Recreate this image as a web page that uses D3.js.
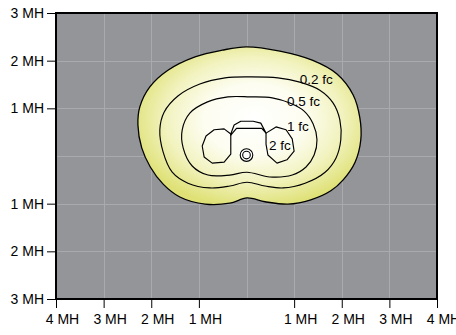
<!DOCTYPE html>
<html>
<head>
<meta charset="utf-8">
<script src="https://cdn.jsdelivr.net/npm/d3@7"></script>
<style>
  html, body { margin: 0; padding: 0; background: #ffffff; }
  svg { display: block; font-family: "Liberation Sans", Arial, Helvetica, sans-serif; }
</style>
</head>
<body>
<svg id="chart" width="456" height="335"></svg>
<script>
// Isofootcandle plot, distances in mounting heights (MH), luminaire at the origin.
const xTicks = [-4, -3, -2, -1, 1, 2, 3, 4];
const xTickLabels = ["4 MH", "3 MH", "2 MH", "1 MH", "1 MH", "2 MH", "3 MH", "4 MH"];
const yTicks = [3, 2, 1, -1, -2, -3];
const yTickLabels = ["3 MH", "2 MH", "1 MH", "1 MH", "2 MH", "3 MH"];
const gridX = [-3, -2, -1, 0, 1, 2, 3];
const gridY = [-2, -1, 0, 1, 2];

// Contour outlines, [x MH, y MH]
const contour02 = [
  [0.00, 2.29], [-0.51, 2.22], [-1.08, 2.08], [-1.65, 1.80], [-2.03, 1.45],
  [-2.24, 1.03], [-2.28, 0.65], [-2.20, 0.17], [-2.02, -0.23], [-1.75, -0.59],
  [-1.40, -0.86], [-0.87, -1.01], [-0.35, -0.99], [0.01, -0.88], [0.39, -0.96],
  [0.87, -1.01], [1.35, -0.92], [1.77, -0.73], [2.03, -0.50], [2.28, -0.13],
  [2.40, 0.34], [2.38, 0.80], [2.24, 1.28], [1.90, 1.72], [1.38, 2.01], [0.70, 2.20]
];
const contour05 = [
  [-1.82, 0.55], [-1.73, 0.92], [-1.44, 1.26], [-0.98, 1.51], [-0.45, 1.64],
  [0.07, 1.66], [0.66, 1.64], [1.12, 1.55], [1.54, 1.38], [1.82, 1.11],
  [1.96, 0.76], [1.98, 0.34], [1.88, -0.04], [1.65, -0.34], [1.23, -0.57],
  [0.77, -0.67], [0.39, -0.63], [0.01, -0.55], [-0.35, -0.63], [-0.77, -0.67],
  [-1.23, -0.57], [-1.56, -0.34], [-1.75, 0.08]
];
const contour1 = [
  [-1.35, 0.55], [-1.19, 0.90], [-0.83, 1.13], [-0.39, 1.24], [0.07, 1.24],
  [0.54, 1.22], [0.91, 1.11], [1.21, 0.94], [1.40, 0.67], [1.48, 0.34],
  [1.42, 0.02], [1.25, -0.23], [0.96, -0.40], [0.49, -0.44], [0.01, -0.34],
  [-0.35, -0.40], [-0.81, -0.40], [-1.14, -0.21], [-1.33, 0.17]
];
const contour2Left = [
  [-0.68, 0.55], [-0.47, 0.57], [-0.33, 0.46], [-0.33, 0.04], [-0.47, -0.13],
  [-0.72, -0.15], [-0.89, -0.02], [-0.93, 0.21], [-0.85, 0.42]
];
const contour2Right = [
  [0.41, 0.48], [0.62, 0.61], [0.83, 0.55], [0.96, 0.36], [1.00, 0.10],
  [0.85, -0.08], [0.64, -0.15], [0.45, 0.02], [0.41, 0.25]
];
const contour2Bridge = [
  [-0.33, 0.46], [-0.26, 0.65], [-0.12, 0.73], [0.14, 0.73], [0.30, 0.69], [0.41, 0.48],
  [0.32, 0.58], [-0.21, 0.58], [-0.33, 0.44]
];
const luminaire = [0, 0.02];

const contourLabels = ["0.2 fc", "0.5 fc", "1 fc", "2 fc"];
const labelX = [1.12, 0.85, 0.85, 0.47];
const labelY = [1.51, 1.04, 0.52, 0.12];

const svg = d3.select("#chart");
const plot = { left: 56, right: 437, top: 13, bottom: 299 };

const x = d3.scaleLinear().domain([-4, 4]).range([plot.left, plot.right]);
const y = d3.scaleLinear().domain([-3, 3]).range([plot.bottom, plot.top]);

// gradient for the lit area
const defs = svg.append("defs");
const grad = defs.append("radialGradient")
  .attr("id", "litGrad")
  .attr("cx", "52%").attr("cy", "46%").attr("r", "56%");
grad.append("stop").attr("offset", "0%").attr("stop-color", "#ffffff");
grad.append("stop").attr("offset", "40%").attr("stop-color", "#fdfdf1");
grad.append("stop").attr("offset", "70%").attr("stop-color", "#f2f3c0");
grad.append("stop").attr("offset", "100%").attr("stop-color", "#dfe177");

// plot background
svg.append("rect")
  .attr("x", plot.left).attr("y", plot.top)
  .attr("width", plot.right - plot.left).attr("height", plot.bottom - plot.top)
  .attr("fill", "#939598");

// grid
const grid = svg.append("g").attr("stroke", "#a9aaad").attr("stroke-width", 1);
grid.selectAll("line.gx").data(gridX).join("line")
  .attr("x1", d => Math.round(x(d)) + 0.5).attr("x2", d => Math.round(x(d)) + 0.5)
  .attr("y1", plot.top).attr("y2", plot.bottom);
grid.selectAll("line.gy").data(gridY).join("line")
  .attr("y1", d => Math.round(y(d)) + 0.5).attr("y2", d => Math.round(y(d)) + 0.5)
  .attr("x1", plot.left).attr("x2", plot.right);

const smooth = d3.line().x(d => x(d[0])).y(d => y(d[1])).curve(d3.curveCatmullRomClosed.alpha(0.5));
const poly = d3.line().x(d => x(d[0])).y(d => y(d[1])).curve(d3.curveLinearClosed);

// lit area
svg.append("path").datum(contour02)
  .attr("d", smooth)
  .attr("fill", "url(#litGrad)")
  .attr("stroke", "#000").attr("stroke-width", 1.3);

// inner contours
const lines = svg.append("g").attr("fill", "none").attr("stroke", "#000").attr("stroke-width", 1.15);
lines.append("path").datum(contour05).attr("d", smooth);
lines.append("path").datum(contour1).attr("d", smooth);
[contour2Left, contour2Right, contour2Bridge].forEach(c => {
  lines.append("path").datum(c).attr("d", poly).attr("stroke-linejoin", "round");
});

// luminaire symbol
const lum = svg.append("g").attr("transform", `translate(${x(luminaire[0])},${y(luminaire[1])})`);
lum.append("circle").attr("r", 6.3).attr("fill", "#ffffff").attr("stroke", "#000").attr("stroke-width", 1.1);
lum.append("circle").attr("r", 3.8).attr("fill", "#ffffff").attr("stroke", "#000").attr("stroke-width", 1.1);

// contour labels
svg.append("g")
  .attr("font-size", 13.5).attr("fill", "#000")
  .selectAll("text").data(contourLabels).join("text")
  .attr("x", (d, i) => x(labelX[i]))
  .attr("y", (d, i) => y(labelY[i]))
  .text(d => d);

// axes
const yAxis = d3.axisLeft(y)
  .tickValues(yTicks)
  .tickFormat((d, i) => yTickLabels[i])
  .tickSize(9).tickPadding(3);
const gy = svg.append("g").attr("transform", `translate(${plot.left},0)`).call(yAxis);
gy.select(".domain").remove();
gy.selectAll("text").attr("font-size", 14).attr("font-family", "Liberation Sans, Arial, sans-serif").attr("fill", "#000");
gy.selectAll("line").attr("stroke", "#000");

const xAxis = d3.axisBottom(x)
  .tickValues(xTicks)
  .tickFormat((d, i) => xTickLabels[i])
  .tickSize(9).tickPadding(6);
const gx = svg.append("g").attr("transform", `translate(0,${plot.bottom})`).call(xAxis);
gx.select(".domain").remove();
gx.selectAll("text").attr("font-size", 14).attr("font-family", "Liberation Sans, Arial, sans-serif").attr("fill", "#000").attr("dx", 6);
gx.selectAll("line").attr("stroke", "#000");

// frame
svg.append("rect")
  .attr("x", plot.left).attr("y", plot.top)
  .attr("width", plot.right - plot.left).attr("height", plot.bottom - plot.top)
  .attr("fill", "none").attr("stroke", "#000").attr("stroke-width", 2);
</script>
</body>
</html>
